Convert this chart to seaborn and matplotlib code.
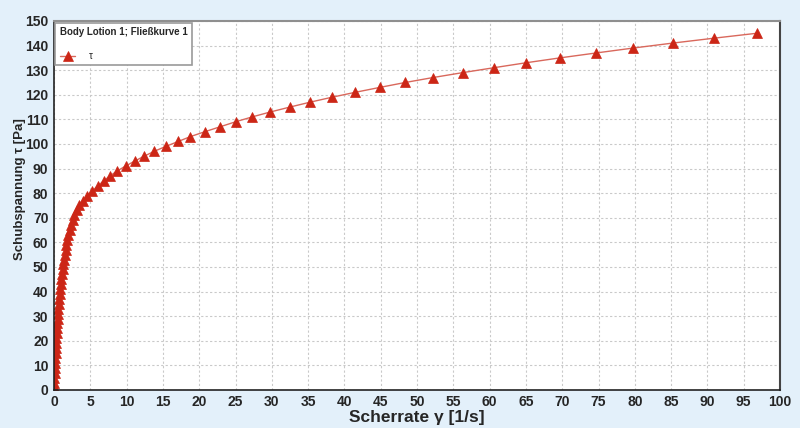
import matplotlib
matplotlib.use("Agg")
import matplotlib.pyplot as plt
import seaborn as sns
import pandas as pd
from matplotlib.ticker import MultipleLocator

# Shear stress (Pa) - controlled stress ramp
tau = [1, 3, 5, 7, 9, 11, 13, 15, 17, 19, 21, 23, 25, 27, 29, 31, 33, 35, 37, 39,
       41, 43, 45, 47, 49, 51, 53, 55, 57, 59, 61, 63, 65, 67, 69, 71, 73, 75, 77, 79,
       81, 83, 85, 87, 89, 91, 93, 95, 97, 99, 101, 103, 105, 107, 109, 111, 113, 115,
       117, 119, 121, 123, 125, 127, 129, 131, 133, 135, 137, 139, 141, 143, 145]
# Shear rate (1/s)
gamma = [0.00, 0.03, 0.06, 0.09, 0.12, 0.15, 0.18, 0.21, 0.24, 0.28, 0.32, 0.36, 0.40,
         0.45, 0.50, 0.55, 0.61, 0.67, 0.73, 0.80, 0.87, 0.95, 1.03, 1.11, 1.20, 1.29,
         1.39, 1.49, 1.60, 1.72, 1.85, 1.99, 2.15, 2.34, 2.56, 2.82, 3.12, 3.50, 4.00,
         4.60, 5.30, 6.05, 6.85, 7.70, 8.70, 9.85, 11.1, 12.4, 13.8, 15.4, 17.1, 18.8,
         20.8, 22.9, 25.0, 27.3, 29.8, 32.5, 35.3, 38.3, 41.5, 44.9, 48.4, 52.2, 56.3,
         60.6, 65.0, 69.7, 74.7, 79.8, 85.2, 90.9, 96.8]

x_ticks = list(range(0, 101, 5))
y_ticks = list(range(0, 151, 10))

df = pd.DataFrame({"Scherrate": gamma, "Schubspannung": tau})

sns.set_style("white")
plt.rcParams["font.family"] = ["Liberation Sans", "DejaVu Sans"]

bg = "#e3f0fa"
fig = plt.figure(figsize=(8.0, 4.28), dpi=100, facecolor=bg)
ax = fig.add_axes([0.0675, 0.089, 0.9075, 0.862])
ax.set_facecolor("white")

sns.lineplot(data=df, x="Scherrate", y="Schubspannung", ax=ax, sort=False,
             color="#d9685c", linewidth=1.0, marker="^", markersize=7.5,
             markerfacecolor="#cc2616", markeredgecolor="#cc2616",
             markeredgewidth=0.5, label="τ")

ax.set_xlim(0, 100)
ax.set_ylim(0, 150)
ax.set_xticks(x_ticks)
ax.set_yticks(y_ticks)
ax.xaxis.set_minor_locator(MultipleLocator(0.5))
ax.yaxis.set_minor_locator(MultipleLocator(1))
ax.tick_params(axis="both", which="major", direction="out", length=3, width=1,
               color="#222222", labelsize=10, pad=1)
ax.tick_params(axis="both", which="minor", direction="out", length=1.8, width=0.8,
               color="#333333")
for lbl in ax.get_xticklabels() + ax.get_yticklabels():
    lbl.set_fontweight("bold")

ax.grid(True, which="major", color="#c9c9c9", linestyle=(0, (2, 2)), linewidth=0.8)
ax.set_axisbelow(True)

ax.spines["left"].set_color("#222222")
ax.spines["bottom"].set_color("#222222")
ax.spines["left"].set_linewidth(1.2)
ax.spines["bottom"].set_linewidth(1.2)
ax.spines["top"].set_color("#8f8f8f")
ax.spines["top"].set_linewidth(1.5)
ax.spines["right"].set_color("#444444")
ax.spines["right"].set_linewidth(1.5)

ax.set_xlabel("Scherrate γ [1/s]", fontsize=12.5, fontweight="bold")
ax.xaxis.set_label_coords(0.5, -0.054)
ax.set_ylabel("Schubspannung τ [Pa]", fontsize=9.5, fontweight="bold")
ax.yaxis.set_label_coords(-0.039, 0.545)

leg = ax.legend(title="Body Lotion 1; Fließkurve 1", loc="upper left",
                bbox_to_anchor=(0.002, 0.995), borderaxespad=0, frameon=True,
                fancybox=False, fontsize=7,
                title_fontproperties={"weight": "bold", "size": 7},
                alignment="left", borderpad=0.45, handlelength=1.6,
                handletextpad=1.4, labelspacing=0.4)
leg._legend_box.sep = 10
leg.get_frame().set_edgecolor("#9a9a9a")
leg.get_frame().set_linewidth(1.2)
leg.get_frame().set_facecolor("white")
leg.get_frame().set_alpha(1)

fig.savefig("out.png", dpi=100, facecolor=bg)
